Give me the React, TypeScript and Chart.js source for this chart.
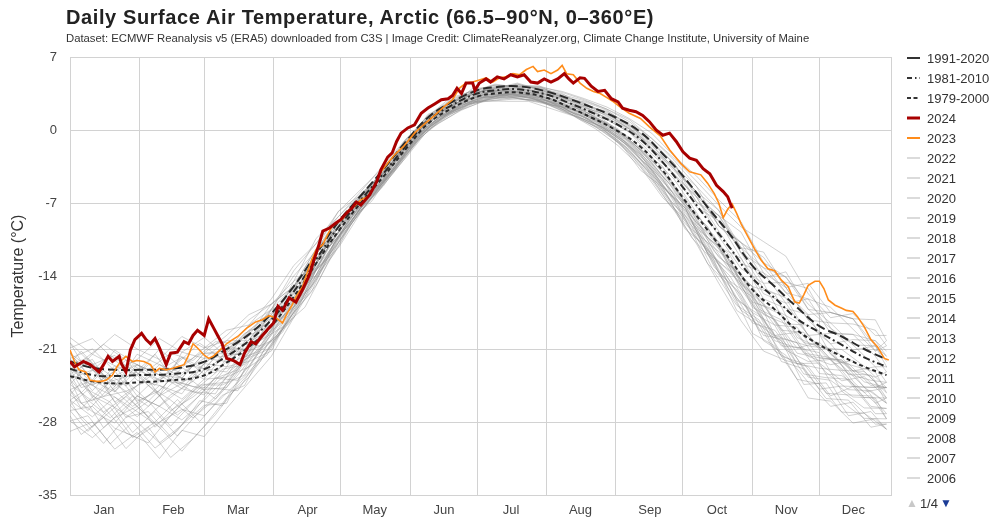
import React, { useEffect, useRef } from "react";
import { Chart, registerables } from "chart.js";
Chart.register(...registerables);

const FONT = "'Liberation Sans', Arial, Helvetica, sans-serif";

const monthLabels = ["Jan", "Feb", "Mar", "Apr", "May", "Jun", "Jul", "Aug", "Sep", "Oct", "Nov", "Dec"];
const monthStarts = [0, 31, 60, 91, 121, 152, 182, 213, 244, 274, 305, 335, 367];
const yTicks = [7, 0, -7, -14, -21, -28, -35];

// climatologies (day of year, °C)
const climDays = [0, 10, 20, 31, 45, 59, 70, 80, 90, 100, 110, 120, 130, 140, 151, 160, 170, 182, 190, 200, 213, 223, 233, 244, 255, 265, 274, 285, 295, 305, 315, 325, 335, 345, 355, 365];
const clim1991_2020 = [-22.2, -22.8, -23.0, -23.0, -22.9, -22.3, -21.0, -19.6, -17.6, -15.0, -11.9, -8.8, -6.3, -3.8, -0.9, 1.2, 2.6, 3.8, 4.1, 4.2, 3.7, 3.0, 2.2, 1.2, -0.2, -2.3, -4.4, -7.4, -10.0, -13.0, -15.0, -17.0, -18.8, -19.8, -21.0, -22.0];
const clim1981_2010 = [-22.9, -23.5, -23.6, -23.5, -23.4, -23.0, -21.7, -20.2, -18.2, -15.5, -12.4, -9.3, -6.7, -4.2, -1.3, 0.9, 2.3, 3.5, 3.8, 3.9, 3.4, 2.6, 1.7, 0.6, -0.9, -3.1, -5.5, -8.6, -11.3, -14.2, -16.1, -18.1, -19.4, -20.6, -21.8, -22.7];
const clim1979_2000 = [-23.6, -24.1, -24.3, -24.2, -24.0, -23.6, -22.3, -20.8, -18.8, -16.0, -12.8, -9.7, -7.0, -4.5, -1.6, 0.6, 2.0, 3.2, 3.5, 3.6, 3.1, 2.2, 1.2, 0.0, -1.6, -3.9, -6.5, -9.6, -12.4, -15.3, -17.2, -19.2, -20.6, -21.7, -22.7, -23.5];

// 2024 [day, °C]
const series2024 = [
  [0, -22.2], [2, -22.7], [6, -22.2], [9, -22.5], [13, -23.2], [15, -22.5], [17, -21.7], [19, -22.2], [22, -21.7], [23, -22.4],
  [25, -23.2], [27, -21.1], [29, -20.1], [32, -19.5], [34, -20.1], [36, -20.5], [38, -20.0], [40, -20.9], [43, -22.5], [45, -21.4],
  [48, -21.3], [51, -20.3], [53, -20.5], [55, -19.7], [57, -19.2], [60, -19.7], [62, -18.1], [64, -18.9], [66, -19.7], [68, -20.5],
  [70, -21.9], [73, -22.1], [76, -22.5], [78, -21.4], [81, -20.3], [83, -20.5], [86, -19.7], [88, -19.2], [91, -18.5], [93, -16.9],
  [95, -17.3], [98, -16.1], [101, -16.5], [104, -15.3], [107, -13.9], [109, -12.5], [111, -11.2], [113, -9.7], [116, -9.4], [119, -8.9],
  [121, -8.6], [123, -8.1], [126, -7.5], [128, -6.9], [130, -7.2], [132, -6.7], [134, -6.2], [137, -5.0], [139, -3.8], [142, -2.6],
  [144, -2.2], [146, -1.1], [148, -0.3], [151, 0.2], [154, 0.5], [157, 1.6], [160, 2.1], [163, 2.5], [166, 2.9], [169, 3.0],
  [171, 3.3], [173, 4.0], [175, 3.5], [177, 4.5], [180, 4.5], [181, 3.8], [183, 4.5], [186, 4.9], [188, 4.6], [191, 5.1],
  [194, 4.9], [197, 5.3], [200, 5.1], [203, 5.3], [206, 4.6], [209, 4.5], [212, 4.9], [215, 4.6], [218, 4.9], [221, 5.4],
  [223, 4.9], [225, 4.5], [228, 5.0], [230, 4.95], [233, 4.2], [236, 3.7], [239, 3.8], [242, 3.0], [245, 2.7], [247, 2.1],
  [250, 1.9], [253, 1.75], [256, 1.4], [259, 0.8], [262, 0.0], [265, -0.5], [268, -0.3], [271, -1.1], [274, -2.1], [277, -2.7],
  [280, -2.9], [283, -3.7], [286, -4.2], [289, -5.3], [292, -5.9], [294, -6.4], [296, -7.5],
];

// 2023 [day, °C]
const series2023 = [
  [0, -21.1], [2, -22.2], [4, -23.0], [7, -23.2], [9, -24.0], [12, -24.1], [14, -24.1], [16, -24.0], [19, -23.5], [21, -22.7],
  [23, -22.1], [25, -21.7], [28, -22.2], [30, -22.1], [33, -22.2], [36, -22.5], [38, -23.2], [40, -22.85], [43, -23.0], [46, -22.85],
  [48, -22.7], [51, -22.5], [53, -21.6], [55, -20.5], [57, -20.9], [60, -21.6], [62, -21.9], [64, -21.7], [67, -21.1], [70, -20.5],
  [72, -20.2], [75, -19.8], [79, -19.0], [83, -18.4], [86, -18.2], [89, -17.8], [92, -18.0], [95, -18.5], [97, -17.6], [99, -16.9],
  [101, -16.0], [104, -15.0], [106, -13.7], [108, -12.5], [110, -11.5], [113, -11.0], [115, -10.1], [117, -9.3], [119, -8.95], [122, -8.5],
  [124, -7.8], [127, -7.35], [130, -6.7], [133, -6.4], [136, -5.4], [139, -4.0], [142, -3.2], [145, -2.4], [149, -1.6], [154, -0.3],
  [158, 0.5], [163, 1.4], [167, 2.2], [171, 2.9], [174, 4.0], [177, 4.5], [180, 4.6], [183, 4.8], [186, 5.0], [189, 4.6],
  [192, 5.0], [195, 5.1], [198, 5.4], [201, 5.3], [204, 5.8], [207, 6.1], [209, 5.6], [212, 5.75], [215, 5.4], [218, 5.75],
  [220, 6.2], [222, 5.4], [225, 5.3], [228, 4.5], [231, 4.0], [234, 3.7], [237, 3.5], [240, 3.1], [243, 2.7], [246, 2.2],
  [250, 1.6], [255, 1.1], [259, 0.3], [264, -0.6], [268, -1.9], [273, -3.2], [277, -4.0], [282, -4.3], [285, -5.1], [288, -6.1],
  [290, -7.0], [292, -8.4], [294, -7.6], [296, -7.1], [298, -8.0], [300, -9.0], [303, -10.2], [306, -11.4], [309, -12.5], [312, -13.3],
  [315, -13.5], [318, -14.4], [321, -15.0], [324, -16.5], [326, -16.6], [328, -15.8], [330, -14.9], [333, -14.5], [335, -14.5], [337, -15.2],
  [339, -16.3], [342, -16.8], [345, -17.1], [347, -17.3], [350, -17.4], [352, -17.9], [355, -18.85], [358, -20.1], [361, -20.8], [364, -21.9],
  [366, -22.05],
];

// other years (sampled every 10 days)
const grayDays = [0, 10, 20, 30, 40, 50, 60, 70, 80, 90, 100, 110, 120, 130, 140, 150, 160, 170, 180, 190, 200, 210, 220, 230, 240, 250, 260, 270, 280, 290, 300, 310, 320, 330, 340, 350, 360, 365];
const y2022 = [-21.4, -23.0, -24.6, -21.5, -22.5, -23.8, -21.4, -21.2, -21.2, -17.2, -14.0, -11.6, -8.8, -6.4, -3.9, -1.3, 1.2, 2.8, 3.8, 4.0, 4.5, 3.9, 3.4, 2.8, 2.0, 0.8, -0.8, -2.9, -5.4, -7.7, -11.3, -13.2, -14.1, -17.2, -17.5, -18.1, -21.2, -20.7];
const y2021 = [-23.9, -21.5, -22.6, -25.5, -26.5, -24.8, -22.4, -22.7, -19.7, -18.7, -14.5, -12.9, -9.1, -7.0, -4.0, -1.0, 1.1, 2.1, 3.7, 4.3, 4.1, 4.0, 3.5, 2.3, 1.8, 0.6, -1.8, -3.5, -5.4, -9.2, -11.3, -14.7, -14.6, -15.2, -19.0, -21.1, -20.7, -22.2];
const y2020 = [-20.4, -22.5, -26.1, -24.5, -23.0, -21.8, -23.4, -21.2, -18.7, -17.2, -13.5, -10.9, -8.3, -5.9, -3.4, -0.9, 1.3, 3.1, 3.7, 4.4, 4.1, 4.1, 3.7, 3.0, 2.2, 1.1, -0.3, -2.5, -4.4, -6.7, -8.8, -12.7, -14.1, -16.7, -18.5, -18.6, -19.2, -20.7];
const y2019 = [-22.4, -25.0, -22.6, -23.5, -25.5, -21.3, -21.9, -22.2, -20.7, -17.7, -15.0, -11.4, -7.8, -6.2, -4.2, -1.2, 1.4, 2.3, 4.0, 4.1, 4.3, 4.2, 3.1, 2.7, 1.9, 0.4, -1.3, -3.2, -6.2, -8.2, -9.8, -13.7, -16.6, -16.2, -17.0, -19.1, -21.2, -20.2];
const y2018 = [-21.9, -21.0, -23.1, -22.0, -20.0, -21.3, -19.9, -21.7, -19.2, -17.7, -16.0, -11.9, -9.3, -6.2, -4.1, -1.7, 1.1, 2.7, 3.5, 4.0, 4.4, 3.9, 3.0, 2.4, 1.6, 0.1, -1.5, -3.7, -5.9, -7.7, -11.8, -13.2, -15.6, -16.2, -19.5, -19.6, -20.2, -21.7];
const y2017 = [-22.9, -22.0, -25.1, -23.0, -24.0, -24.3, -22.4, -20.7, -19.7, -16.7, -15.0, -12.4, -9.8, -6.5, -3.8, -1.2, 0.9, 2.6, 3.6, 3.8, 4.0, 3.8, 3.3, 2.5, 1.3, 0.2, -1.4, -3.7, -6.9, -8.7, -10.8, -12.7, -15.6, -17.7, -17.5, -18.1, -20.7, -21.7];
const y2016 = [-19.9, -21.5, -19.6, -21.0, -22.0, -19.8, -20.9, -20.2, -18.2, -16.7, -14.5, -10.4, -8.3, -6.2, -4.0, -0.9, 1.1, 2.8, 3.4, 4.2, 4.2, 4.2, 3.6, 2.9, 2.0, 1.0, -0.8, -2.7, -4.9, -7.2, -9.3, -10.7, -12.1, -15.7, -18.0, -17.6, -19.7, -19.7];
const y2015 = [-23.4, -24.5, -23.1, -26.0, -25.0, -22.8, -23.9, -23.7, -21.7, -18.7, -15.5, -13.4, -9.8, -7.0, -4.9, -1.3, 1.0, 2.0, 3.6, 3.6, 3.9, 3.7, 2.7, 2.2, 1.4, 0.1, -2.0, -4.2, -6.4, -9.7, -12.8, -13.7, -15.1, -18.2, -18.5, -20.6, -22.7, -22.7];
const y2014 = [-24.9, -24.0, -25.1, -22.5, -23.5, -24.8, -25.4, -22.7, -22.2, -19.7, -16.5, -12.9, -9.3, -7.2, -4.6, -1.5, 0.7, 2.4, 3.1, 3.8, 3.7, 3.5, 2.9, 1.7, 1.0, -0.2, -2.6, -4.7, -7.9, -11.2, -12.3, -15.7, -16.6, -19.7, -22.0, -22.6, -23.2, -25.2];
const y2013 = [-25.9, -27.5, -25.6, -27.0, -28.5, -26.3, -24.4, -24.2, -21.2, -20.2, -17.0, -14.4, -10.3, -7.5, -5.0, -2.0, 0.5, 1.8, 3.1, 3.2, 3.5, 3.1, 2.3, 1.6, 0.7, -0.9, -3.1, -5.7, -8.9, -10.7, -14.8, -16.7, -20.1, -20.7, -21.0, -24.1, -26.2, -25.7];
const y2012 = [-21.9, -25.5, -26.6, -24.5, -22.5, -23.3, -21.9, -20.2, -20.2, -17.2, -15.0, -11.4, -8.8, -6.5, -4.1, -1.4, 1.5, 2.5, 3.7, 3.9, 4.4, 3.8, 3.2, 2.5, 1.7, 0.5, -1.1, -3.2, -6.4, -8.2, -11.8, -15.2, -16.1, -19.7, -19.5, -19.6, -21.7, -23.2];
const y2011 = [-22.4, -22.5, -21.6, -24.0, -24.5, -25.8, -23.9, -21.2, -19.2, -18.7, -17.0, -12.9, -8.8, -6.3, -4.4, -1.2, 1.0, 2.5, 3.4, 4.1, 4.0, 3.6, 3.1, 2.1, 1.5, 0.3, -1.9, -3.7, -5.9, -9.2, -10.8, -12.2, -15.1, -18.2, -20.5, -20.1, -20.2, -21.2];
const y2010 = [-24.4, -26.0, -23.6, -22.5, -24.0, -21.8, -22.9, -23.2, -20.7, -19.2, -15.0, -12.4, -9.8, -6.7, -4.2, -1.8, 0.9, 2.6, 3.4, 3.7, 4.1, 3.6, 3.0, 2.0, 1.2, -0.1, -2.3, -4.2, -7.4, -8.7, -12.3, -16.2, -17.1, -17.7, -21.5, -23.1, -22.7, -24.2];
const y2009 = [-25.4, -27.0, -28.1, -25.5, -26.5, -27.8, -25.9, -23.7, -22.7, -19.2, -16.0, -13.9, -10.1, -7.2, -4.7, -1.9, 0.7, 1.8, 3.2, 3.5, 3.4, 3.4, 2.5, 1.8, 0.5, -0.7, -2.8, -5.5, -8.9, -12.2, -13.8, -17.7, -18.6, -21.7, -22.5, -22.1, -24.2, -26.2];
const y2008 = [-22.9, -24.5, -25.6, -27.5, -25.5, -24.3, -24.9, -24.7, -21.7, -20.2, -18.0, -13.4, -10.8, -7.4, -4.9, -2.1, 0.4, 2.0, 3.0, 3.3, 3.6, 3.0, 2.4, 1.4, 0.6, -1.2, -3.3, -6.2, -9.4, -11.2, -15.3, -18.2, -21.1, -22.2, -22.0, -24.6, -24.7, -24.2];
const y2007 = [-26.9, -26.5, -28.6, -29.5, -28.0, -26.8, -27.4, -25.2, -23.2, -20.7, -17.5, -14.9, -10.8, -7.7, -5.2, -2.2, 0.1, 1.7, 2.7, 3.0, 3.3, 2.9, 2.0, 1.2, 0.0, -1.6, -3.8, -6.7, -10.4, -12.7, -16.3, -19.7, -20.1, -23.7, -24.0, -25.6, -25.7, -27.7];
const y2006 = [-26.4, -28.5, -26.6, -28.0, -30.0, -28.3, -26.4, -26.2, -22.2, -21.2, -17.0, -13.4, -11.3, -7.9, -5.0, -2.5, 0.2, 1.5, 2.5, 3.2, 3.1, 2.7, 2.2, 1.0, 0.1, -1.4, -4.1, -7.2, -9.4, -13.7, -17.3, -18.7, -22.1, -22.7, -25.5, -24.6, -27.2, -27.2];
const y2005 = [-23.9, -23.0, -24.1, -26.5, -24.5, -25.3, -22.4, -20.7, -21.2, -18.2, -16.5, -11.9, -9.3, -6.4, -4.5, -1.1, 1.1, 2.2, 3.5, 4.0, 3.8, 3.7, 3.2, 2.2, 1.0, -0.2, -1.8, -4.4, -6.4, -10.2, -13.3, -14.7, -18.6, -18.7, -20.5, -23.1, -23.7, -23.2];
const y2004 = [-27.9, -29.5, -27.6, -26.5, -28.5, -30.8, -28.4, -25.7, -23.7, -20.7, -17.5, -13.9, -10.3, -7.5, -5.4, -2.3, 0.4, 1.6, 2.8, 3.4, 3.2, 3.1, 2.1, 1.3, -0.2, -1.9, -4.3, -6.5, -9.9, -13.7, -15.8, -20.2, -21.6, -24.2, -26.5, -26.1, -28.2, -28.2];
const y2003 = [-20.9, -20.0, -22.1, -23.5, -21.0, -22.8, -20.9, -19.2, -18.7, -16.2, -13.0, -10.9, -7.8, -5.7, -3.6, -1.0, 1.3, 2.9, 3.8, 4.3, 4.2, 4.1, 3.3, 2.6, 1.5, 0.4, -1.1, -3.2, -6.9, -8.2, -11.3, -11.7, -15.1, -14.7, -17.5, -18.1, -18.2, -20.2];
const y2002 = [-28.9, -28.0, -30.6, -29.0, -31.5, -28.8, -29.4, -26.7, -24.2, -21.7, -18.0, -14.4, -10.8, -7.7, -5.1, -2.7, 0.0, 1.3, 2.7, 2.8, 3.0, 2.8, 1.8, 1.0, -0.3, -2.2, -4.8, -7.7, -10.9, -14.7, -18.3, -21.2, -22.1, -25.7, -26.0, -28.1, -27.7, -28.7];
const y2001 = [-21.4, -24.0, -21.1, -22.5, -23.5, -23.8, -21.4, -19.7, -17.7, -16.7, -15.0, -12.4, -8.8, -6.1, -4.2, -1.5, 1.2, 2.7, 3.6, 3.9, 4.2, 4.0, 3.1, 2.3, 1.1, 0.1, -1.7, -3.9, -5.9, -9.2, -10.8, -14.2, -13.6, -17.2, -19.0, -20.6, -20.7, -22.7];

// older years (sampled on offset days)
const grayDays2 = [0, 5, 15, 25, 35, 45, 55, 65, 75, 85, 95, 105, 115, 125, 135, 145, 155, 165, 175, 185, 195, 205, 215, 225, 235, 245, 255, 265, 275, 285, 295, 305, 315, 325, 335, 345, 355, 365];
const y2000 = [-24.9, -26.7, -24.55, -27.55, -26.0, -28.4, -26.1, -23.8, -23.0, -20.2, -18.4, -14.5, -11.9, -8.6, -6.4, -3.5, -0.9, 1.2, 2.1, 3.1, 3.15, 3.15, 2.35, 1.45, 0.3, -1.2, -3.35, -6.0, -9.0, -10.8, -15.0, -18.5, -19.2, -21.9, -24.85, -24.55, -24.65, -27.2];
const y1999 = [-21.9, -24.2, -26.55, -29.05, -30.0, -27.4, -25.1, -25.3, -22.0, -21.2, -19.4, -15.5, -11.4, -9.0, -6.1, -3.8, -0.6, 1.1, 2.5, 2.9, 3.55, 3.25, 2.65, 1.75, 0.6, -0.7, -2.85, -5.5, -7.5, -11.8, -14.0, -17.5, -21.2, -22.4, -22.35, -26.05, -27.65, -27.7];
const y1998 = [-25.9, -25.2, -28.55, -26.55, -24.5, -25.9, -27.6, -25.8, -23.5, -20.7, -17.9, -16.0, -12.4, -8.7, -6.8, -3.6, -1.1, 0.9, 2.4, 2.8, 3.25, 2.85, 2.55, 1.45, 0.5, -1.0, -3.85, -5.5, -9.5, -11.3, -15.5, -17.5, -18.7, -22.4, -22.85, -23.05, -25.65, -25.7];
const y1997 = [-22.4, -21.2, -23.55, -25.05, -26.5, -24.4, -22.6, -23.3, -21.0, -19.7, -16.4, -15.0, -10.9, -7.7, -5.8, -2.8, -0.6, 1.7, 2.7, 3.6, 3.55, 3.65, 2.85, 2.25, 1.0, -0.1, -2.15, -5.0, -7.0, -10.3, -12.0, -16.0, -18.7, -18.9, -21.85, -22.05, -24.15, -24.7];
const y1996 = [-27.4, -29.2, -27.55, -30.55, -28.5, -31.4, -29.6, -27.3, -24.5, -22.2, -18.9, -17.0, -12.9, -9.2, -6.5, -4.0, -1.0, 0.7, 1.9, 2.8, 2.75, 2.75, 2.05, 1.35, 0.1, -1.5, -3.55, -6.5, -8.5, -12.8, -15.0, -19.5, -20.7, -23.9, -24.35, -27.05, -27.15, -28.7];
const y1995 = [-20.4, -22.2, -20.55, -22.05, -23.0, -21.4, -22.1, -20.3, -20.5, -18.2, -16.9, -13.5, -9.9, -7.8, -5.2, -2.9, 0.0, 1.5, 3.1, 3.7, 3.85, 3.55, 3.35, 2.35, 1.5, 0.0, -1.85, -3.5, -7.0, -9.3, -13.0, -15.0, -15.7, -19.9, -20.85, -21.05, -22.65, -24.7];
const y1994 = [-24.4, -23.2, -25.55, -24.05, -26.0, -23.9, -24.6, -24.8, -25.0, -21.7, -18.4, -16.0, -11.9, -8.5, -6.2, -3.9, -0.7, 1.0, 2.4, 3.2, 3.15, 3.25, 2.65, 1.65, 0.8, -0.6, -2.55, -4.5, -8.0, -10.3, -13.5, -15.0, -19.7, -20.4, -23.35, -23.55, -25.15, -24.7];
const y1993 = [-25.9, -27.7, -30.05, -27.55, -27.0, -29.4, -27.1, -24.3, -22.5, -20.2, -18.9, -15.0, -11.4, -9.0, -5.9, -3.5, -0.9, 1.3, 2.2, 3.0, 3.45, 3.05, 2.75, 1.85, 0.7, -0.8, -2.35, -5.3, -7.5, -11.3, -14.5, -16.0, -20.2, -20.9, -21.35, -25.05, -26.65, -26.7];
const y1992 = [-23.4, -25.2, -23.05, -24.55, -22.5, -23.9, -25.1, -23.3, -20.5, -20.7, -17.4, -14.0, -11.4, -8.3, -5.6, -3.2, -0.2, 1.4, 2.9, 3.3, 3.65, 3.35, 2.95, 1.95, 1.1, -0.3, -1.85, -4.5, -6.5, -10.3, -12.5, -16.5, -17.2, -18.4, -20.85, -23.05, -23.15, -25.2];
const y1991 = [-25.4, -24.2, -27.05, -25.55, -27.5, -25.4, -24.1, -25.8, -23.0, -19.7, -17.9, -15.5, -11.4, -8.9, -6.0, -3.7, -0.5, 1.2, 2.3, 3.4, 3.35, 3.45, 2.75, 2.05, 0.9, -0.4, -2.85, -4.7, -8.5, -10.8, -12.5, -17.0, -18.2, -21.4, -21.85, -22.05, -24.65, -26.2];
const y1990 = [-23.9, -26.2, -25.55, -25.05, -24.0, -26.9, -25.6, -23.8, -24.0, -21.2, -17.9, -14.5, -12.4, -8.4, -6.3, -3.3, -0.8, 1.0, 2.6, 3.1, 3.45, 3.15, 2.45, 1.95, 0.9, -0.5, -2.35, -5.5, -7.5, -11.8, -13.5, -16.5, -19.7, -19.4, -22.35, -24.05, -23.65, -25.7];
const y1989 = [-22.9, -24.7, -24.05, -22.05, -24.5, -23.4, -24.1, -21.8, -21.5, -18.7, -17.4, -15.0, -10.4, -8.2, -5.3, -3.1, -0.3, 1.8, 2.8, 3.4, 3.95, 3.45, 3.05, 2.45, 1.2, 0.1, -1.95, -4.0, -7.0, -9.3, -13.0, -15.0, -18.2, -20.9, -20.35, -22.55, -24.65, -24.7];

// 1980s (sampled on a third set of days)
const grayDays3 = [0, 8, 18, 28, 38, 48, 58, 68, 78, 88, 98, 108, 118, 128, 138, 148, 158, 168, 178, 188, 198, 208, 218, 228, 238, 248, 258, 268, 278, 288, 298, 308, 318, 328, 338, 348, 358, 365];
const y1988 = [-23.9, -25.9, -27.6, -25.5, -28.5, -26.35, -24.45, -24.45, -23.5, -20.1, -17.05, -15.0, -10.9, -7.7, -5.65, -2.7, 0.0, 1.3, 2.7, 3.1, 3.5, 3.0, 2.15, 1.4, 0.2, -1.5, -3.9, -6.7, -8.85, -13.15, -15.3, -19.2, -20.2, -23.4, -23.75, -23.9, -26.5, -26.7];
const y1987 = [-26.4, -24.9, -26.1, -29.0, -27.0, -29.35, -26.95, -24.95, -22.0, -21.1, -18.05, -14.0, -11.4, -8.0, -5.25, -3.0, -0.2, 1.5, 2.4, 3.0, 3.4, 2.9, 2.45, 1.2, 0.3, -1.3, -3.4, -6.2, -9.85, -12.15, -16.3, -17.7, -21.7, -22.4, -25.25, -25.4, -25.5, -27.7];
const y1986 = [-22.4, -21.9, -24.1, -23.5, -21.5, -24.35, -23.45, -20.95, -21.0, -18.1, -17.05, -13.5, -9.9, -7.4, -4.65, -2.4, 0.4, 1.7, 3.0, 3.3, 3.6, 3.5, 2.55, 1.8, 0.6, -0.9, -2.9, -5.7, -7.85, -11.65, -13.8, -17.2, -18.2, -21.4, -21.75, -23.4, -23.5, -25.7];
const y1985 = [-27.9, -27.4, -30.1, -28.0, -30.5, -28.85, -25.95, -26.45, -23.0, -21.6, -18.05, -15.5, -10.9, -8.4, -5.55, -2.9, -0.5, 1.4, 2.2, 3.0, 3.0, 2.9, 2.05, 1.1, -0.1, -1.6, -3.9, -7.2, -9.35, -13.65, -16.8, -18.2, -22.2, -22.9, -25.75, -25.9, -28.5, -28.2];
const y1984 = [-24.9, -26.9, -24.6, -26.5, -25.0, -27.35, -25.45, -22.95, -22.5, -19.1, -17.55, -14.0, -10.4, -7.8, -5.35, -2.3, 0.0, 1.7, 2.6, 3.4, 3.3, 3.3, 2.35, 1.7, 0.4, -1.1, -3.1, -6.2, -8.35, -12.15, -14.3, -17.7, -20.7, -20.9, -23.25, -24.9, -25.0, -26.2];
const y1983 = [-21.4, -23.4, -21.6, -23.0, -24.5, -22.35, -20.45, -21.95, -19.5, -18.6, -15.55, -13.5, -9.6, -7.2, -5.15, -1.9, 0.2, 2.0, 2.9, 3.6, 3.7, 3.3, 2.75, 1.7, 0.8, -0.7, -2.7, -5.2, -8.35, -10.65, -14.3, -16.2, -19.2, -19.4, -21.75, -22.4, -24.5, -24.7];
const y1982 = [-26.9, -28.9, -26.6, -29.5, -28.0, -25.85, -27.95, -25.45, -24.5, -20.6, -18.55, -14.5, -11.9, -8.2, -5.85, -3.2, -0.3, 1.2, 2.5, 2.8, 3.1, 2.7, 2.25, 1.0, 0.1, -1.7, -3.7, -6.7, -10.35, -12.65, -17.3, -18.7, -20.2, -24.4, -24.25, -27.4, -27.0, -28.7];
const y1981 = [-23.4, -22.4, -25.1, -22.5, -24.0, -22.85, -21.45, -21.45, -21.5, -17.6, -16.05, -12.5, -10.4, -7.0, -4.75, -2.1, 0.6, 2.1, 3.1, 3.7, 3.7, 3.7, 2.75, 2.0, 0.9, -0.6, -2.5, -4.7, -7.85, -10.15, -13.8, -16.7, -17.7, -20.4, -20.75, -23.4, -24.0, -24.2];

const grayYears: [string, number[], number[]][] = [
  ["2022", grayDays, y2022], ["2021", grayDays, y2021], ["2020", grayDays, y2020], ["2019", grayDays, y2019],
  ["2018", grayDays, y2018], ["2017", grayDays, y2017], ["2016", grayDays, y2016], ["2015", grayDays, y2015],
  ["2014", grayDays, y2014], ["2013", grayDays, y2013], ["2012", grayDays, y2012], ["2011", grayDays, y2011],
  ["2010", grayDays, y2010], ["2009", grayDays, y2009], ["2008", grayDays, y2008], ["2007", grayDays, y2007],
  ["2006", grayDays, y2006], ["2005", grayDays, y2005], ["2004", grayDays, y2004], ["2003", grayDays, y2003],
  ["2002", grayDays, y2002], ["2001", grayDays, y2001], ["2000", grayDays2, y2000], ["1999", grayDays2, y1999],
  ["1998", grayDays2, y1998], ["1997", grayDays2, y1997], ["1996", grayDays2, y1996], ["1995", grayDays2, y1995],
  ["1994", grayDays2, y1994], ["1993", grayDays2, y1993], ["1992", grayDays2, y1992], ["1991", grayDays2, y1991],
  ["1990", grayDays2, y1990], ["1989", grayDays2, y1989], ["1988", grayDays3, y1988], ["1987", grayDays3, y1987],
  ["1986", grayDays3, y1986], ["1985", grayDays3, y1985], ["1984", grayDays3, y1984], ["1983", grayDays3, y1983],
  ["1982", grayDays3, y1982], ["1981", grayDays3, y1981],
];

const C2024 = "#a80000";
const C2023 = "#ff8c1a";
const CCLIM = "#2a2a2a";
const CGRAY = "rgba(140,140,140,0.4)";

const legendItems = [
  { label: "1991-2020", color: "#333", width: 2, dash: "" },
  { label: "1981-2010", color: "#333", width: 2, dash: "5 3 1.5 3" },
  { label: "1979-2000", color: "#333", width: 2, dash: "4 2.5" },
  { label: "2024", color: C2024, width: 3, dash: "" },
  { label: "2023", color: C2023, width: 2, dash: "" },
  ...["2022", "2021", "2020", "2019", "2018", "2017", "2016", "2015", "2014", "2013", "2012", "2011", "2010", "2009", "2008", "2007", "2006"].map((l) => ({ label: l, color: "#cfcfcf", width: 1.5, dash: "" })),
];

function pts(days: number[], vals: number[]) {
  const out: { x: number; y: number }[] = [];
  for (let i = 0; i < Math.min(days.length, vals.length); i++) out.push({ x: days[i], y: vals[i] });
  return out;
}

export default function App() {
  const ref = useRef<HTMLCanvasElement>(null);
  useEffect(() => {
    if (!ref.current) return;
    Chart.defaults.font.family = FONT;
    const datasets: any[] = [
      { label: "2024", data: series2024.map(([x, y]) => ({ x, y })), borderColor: C2024, borderWidth: 3, order: 0, tension: 0 },
      { label: "2023", data: series2023.map(([x, y]) => ({ x, y })), borderColor: C2023, borderWidth: 1.6, order: 1, tension: 0 },
      { label: "1991-2020", data: pts(climDays, clim1991_2020), borderColor: CCLIM, borderWidth: 2, borderDash: [9, 4], order: 2, tension: 0.4 },
      { label: "1981-2010", data: pts(climDays, clim1981_2010), borderColor: CCLIM, borderWidth: 2, borderDash: [7, 3, 2, 3], order: 2, tension: 0.4 },
      { label: "1979-2000", data: pts(climDays, clim1979_2000), borderColor: CCLIM, borderWidth: 2, borderDash: [4, 3], order: 2, tension: 0.4 },
      ...grayYears.map(([label, days, vals]) => ({ label, data: pts(days, vals), borderColor: CGRAY, borderWidth: 1, order: 3, tension: 0 })),
    ];
    datasets.forEach((d) => {
      d.pointRadius = 0;
      d.fill = false;
    });
    const chart = new Chart(ref.current, {
      type: "line",
      data: { datasets },
      options: {
        responsive: false,
        animation: false,
        events: [],
        layout: { padding: { top: 57, right: 109, left: 0, bottom: 0 } },
        plugins: { legend: { display: false }, tooltip: { enabled: false }, title: { display: false } },
        scales: {
          x: {
            type: "linear",
            min: 0,
            max: 367,
            afterBuildTicks: (s: any) => {
              s.ticks = monthStarts.map((v) => ({ value: v }));
            },
            afterFit: (s: any) => {
              s.height = 35;
            },
            ticks: {
              autoSkip: false,
              maxRotation: 0,
              labelOffset: 34,
              padding: 8,
              color: "#444",
              font: { size: 13 },
              callback: (_v: any, i: number) => monthLabels[i] ?? "",
            },
            grid: { color: "#d2d2d2", drawTicks: false, lineWidth: 1 },
            border: { display: true, color: "#d2d2d2" },
          },
          y: {
            min: -35,
            max: 7,
            afterBuildTicks: (s: any) => {
              s.ticks = yTicks.map((v) => ({ value: v }));
            },
            afterFit: (s: any) => {
              s.width = 70;
            },
            ticks: { padding: 13, color: "#444", font: { size: 13 } },
            grid: { color: "#d2d2d2", drawTicks: false, lineWidth: 1 },
            border: { display: true, color: "#d2d2d2" },
            title: { display: true, text: "Temperature (°C)", color: "#333", font: { size: 16 }, padding: { top: 9, bottom: 0 } },
          },
        },
      },
    });
    return () => chart.destroy();
  }, []);

  return (
    <div style={{ position: "absolute", left: 0, top: 0, width: 1000, height: 530, background: "#fff", fontFamily: FONT, overflow: "hidden" }}>
      <canvas ref={ref} width={1000} height={530} style={{ position: "absolute", left: 0, top: 0, display: "block" }} />
      <div style={{ position: "absolute", left: 66, top: 5, fontSize: 20, lineHeight: "24px", fontWeight: "bold", color: "#222", letterSpacing: 0.6, whiteSpace: "nowrap" }}>
        Daily Surface Air Temperature, Arctic (66.5–90°N, 0–360°E)
      </div>
      <div style={{ position: "absolute", left: 66, top: 31, fontSize: 11.3, lineHeight: "14px", color: "#333", whiteSpace: "nowrap" }}>
        Dataset: ECMWF Reanalysis v5 (ERA5) downloaded from C3S | Image Credit: ClimateReanalyzer.org, Climate Change Institute, University of Maine
      </div>
      <div style={{ position: "absolute", left: 906, top: 48 }}>
        {legendItems.map((it) => (
          <div key={it.label} style={{ height: 20, display: "flex", alignItems: "center", whiteSpace: "nowrap" }}>
            <svg width={16} height={10} style={{ marginRight: 5 }}>
              <line x1={1} y1={5} x2={14} y2={5} stroke={it.color} strokeWidth={it.width} strokeDasharray={it.dash || undefined} />
            </svg>
            <span style={{ fontSize: 13, color: "#333" }}>{it.label}</span>
          </div>
        ))}
        <div style={{ height: 20, display: "flex", alignItems: "center", marginTop: 5, fontSize: 13, color: "#333" }}>
          <span style={{ color: "#c8c8c8", fontSize: 12 }}>▲</span>
          <span style={{ margin: "0 2px" }}>1/4</span>
          <span style={{ color: "#1c3c96", fontSize: 12 }}>▼</span>
        </div>
      </div>
    </div>
  );
}
